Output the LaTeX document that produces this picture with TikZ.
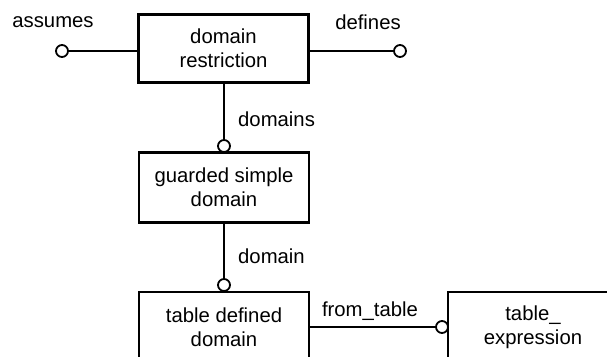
\documentclass[tikz,border=0pt]{standalone}
\usepackage{fontspec}
\setmainfont{Liberation Sans}
\begin{document}
\begin{tikzpicture}[x=1pt,y=-1pt,
  entity/.style={draw, line width=2.2pt, minimum width=170pt, minimum height=70pt,
    align=center, inner sep=0pt, font=\fontsize{20.3}{24}\selectfont},
  ring/.style={draw, circle, line width=1.8pt, fill=white, minimum size=12pt, inner sep=0pt},
  link/.style={line width=1.8pt},
  lbl/.style={font=\fontsize{20.3}{24}\selectfont, inner sep=0pt}]
\useasboundingbox (0,0) rectangle (607,356);
\clip (0,0) rectangle (607,356);

% entities
\node[entity, minimum height=68pt] (restr) at (223.5,48.5) {domain\\restriction};
\node[entity] (guard) at (224,187.5) {guarded simple\\domain};
\node[entity] (tdd) at (224,327) {table defined\\domain};
\node[entity] (texpr) at (533,327) {table\_\\expression};

% end rings
\node[ring] (rassume) at (62,51) {};
\node[ring] (rdefine) at (400,51) {};
\node[ring] (rdomains) at (224,146) {};
\node[ring] (rdomain) at (224,285) {};
\node[ring] (rtable) at (442,327) {};

% connectors
\draw[link] (rassume.east) -- (rassume.east -| restr.west);
\draw[link] (restr.east |- rdefine.west) -- (rdefine.west);
\draw[link] (restr.south -| rdomains) -- (rdomains.north);
\draw[link] (guard.south -| rdomain) -- (rdomain.north);
\draw[link] (tdd.east) -- (rtable.west);

% role labels
\node[lbl] (lassume) at (53,22) {assumes};
\node[lbl] (ldefine) at (368,22) {defines};
\node[lbl, anchor=west] (ldomains) at (238,119) {domains};
\node[lbl, anchor=west] (ldomain) at (238,256) {domain};
\node[lbl] (lfrom) at (370,311) {from\_table};
\end{tikzpicture}
\end{document}
